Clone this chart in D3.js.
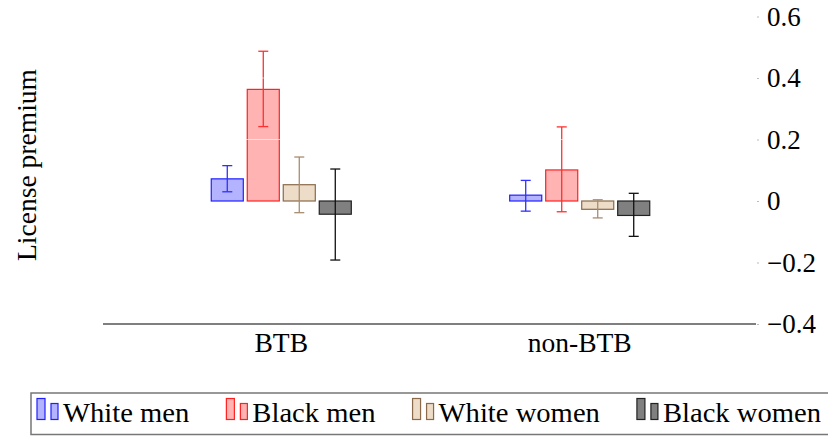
<!DOCTYPE html>
<html>
<head>
<meta charset="utf-8">
<script src="https://cdn.jsdelivr.net/npm/d3@7"></script>
<style>
  body { margin: 0; background: #fff; }
  text { font-family: "Liberation Serif", "DejaVu Serif", serif; fill: #000; }
</style>
</head>
<body>
<script>
let width = 828;
let height = 436;

// data
const groups = ["BTB", "non-BTB"];
const series = ["White men", "Black men", "White women", "Black women"];
const btbMean = [0.072, 0.363, 0.053, -0.043];
const btbLow = [0.030, 0.242, -0.038, -0.192];
const btbHigh = [0.115, 0.487, 0.143, 0.104];
const nonBtbMean = [0.019, 0.101, -0.027, -0.047];
const nonBtbLow = [-0.033, -0.035, -0.055, -0.115];
const nonBtbHigh = [0.067, 0.241, 0.004, 0.025];
const yTicks = [-0.4, -0.2, 0, 0.2, 0.4, 0.6];

const fills = ["#b3b3ff", "#ffb3b3", "#ecdcc8", "#808080"];
const strokes = ["#2020ff", "#ff2020", "#8a6a4a", "#222222"];
const errColors = ["#3030ff", "#ff3030", "#a88c70", "#111111"];

let svg = d3.select("body").append("svg")
  .attr("width", width)
  .attr("height", height);

let x = d3.scalePoint().domain(groups).range([104, 757]).padding(0.594);
let xs = d3.scaleBand().domain(series).range([-72, 72]).paddingInner(0.11).paddingOuter(0.055);
let y = d3.scaleLinear().domain([-0.4, 0.6]).range([324, 16.5]);

// widen the serif a little to mimic the Palatino widths of the original
function stretch(sel, k) {
  sel.each(function () {
    let w = this.getComputedTextLength();
    d3.select(this).attr("textLength", w * k).attr("lengthAdjust", "spacingAndGlyphs");
  });
}

// rows: one per bar
let rows = [];
groups.forEach((g, gi) => {
  let m = gi === 0 ? btbMean : nonBtbMean;
  let lo = gi === 0 ? btbLow : nonBtbLow;
  let hi = gi === 0 ? btbHigh : nonBtbHigh;
  series.forEach((s, si) => {
    rows.push({ group: g, series: s, i: si, v: m[si], lo: lo[si], hi: hi[si] });
  });
});

let bars = svg.append("g");
bars.selectAll("rect")
  .data(rows)
  .enter()
  .append("rect")
  .attr("x", d => x(d.group) + xs(d.series))
  .attr("y", d => y(Math.max(0, d.v)))
  .attr("width", xs.bandwidth())
  .attr("height", d => Math.abs(y(d.v) - y(0)))
  .attr("fill", d => fills[d.i])
  .attr("stroke", d => strokes[d.i])
  .attr("stroke-width", 1.2);

// error bars
let err = svg.append("g");
rows.forEach(d => {
  let cx = x(d.group) + xs(d.series) + xs.bandwidth() / 2;
  let g = err.append("g").attr("stroke", errColors[d.i]).attr("stroke-width", 1.3);
  g.append("line").attr("x1", cx).attr("x2", cx).attr("y1", y(d.lo)).attr("y2", y(d.hi));
  g.append("line").attr("x1", cx - 5).attr("x2", cx + 5).attr("y1", y(d.lo)).attr("y2", y(d.lo));
  g.append("line").attr("x1", cx - 5).attr("x2", cx + 5).attr("y1", y(d.hi)).attr("y2", y(d.hi));
});

// faint white grid lines over the marks
svg.append("g")
  .selectAll("line")
  .data([0.2, 0.4])
  .enter()
  .append("line")
  .attr("x1", 104).attr("x2", 757)
  .attr("y1", d => y(d)).attr("y2", d => y(d))
  .attr("stroke", "#fff")
  .attr("stroke-opacity", 0.6)
  .attr("stroke-width", 1);

// bottom axis line
svg.append("line")
  .attr("x1", 103).attr("x2", 756)
  .attr("y1", y(-0.4)).attr("y2", y(-0.4))
  .attr("stroke", "#555")
  .attr("stroke-width", 1.5);

// y axis on the right
let yAxis = svg.append("g")
  .attr("transform", "translate(757,0)")
  .call(d3.axisRight(y).tickValues(yTicks).tickSize(2).tickPadding(8)
    .tickFormat(d => d === 0 ? "0" : d3.format(".1f")(d)));
yAxis.attr("font-family", null).attr("font-size", null);
yAxis.select(".domain").remove();
yAxis.selectAll(".tick line").attr("stroke", "#bbb");
yAxis.selectAll(".tick text")
  .attr("font-size", 27)
  .attr("fill", "#000");

// group labels
svg.append("g")
  .selectAll("text")
  .data(groups)
  .enter()
  .append("text")
  .attr("x", d => x(d))
  .attr("y", 352)
  .attr("text-anchor", "middle")
  .attr("font-size", 27)
  .text(d => d)
  .call(stretch, 1.02);

// y label
svg.append("text")
  .attr("transform", "translate(36,165) rotate(-90)")
  .attr("text-anchor", "middle")
  .attr("font-size", 27)
  .text("License premium")
  .call(stretch, 1.02);

// legend
let legend = svg.append("g");
legend.append("rect")
  .attr("x", 31).attr("y", 393)
  .attr("width", 810).attr("height", 41.5)
  .attr("fill", "none")
  .attr("stroke", "#777")
  .attr("stroke-width", 1.5);

let lx = 37;
series.forEach((s, i) => {
  let item = legend.append("g");
  item.append("rect")
    .attr("x", lx).attr("y", 398.5).attr("width", 8).attr("height", 21)
    .attr("fill", fills[i]).attr("stroke", strokes[i]).attr("stroke-width", 1.2);
  item.append("rect")
    .attr("x", lx + 14).attr("y", 403.5).attr("width", 7).attr("height", 16)
    .attr("fill", fills[i]).attr("stroke", strokes[i]).attr("stroke-width", 1.2);
  let t = item.append("text")
    .attr("x", lx + 26)
    .attr("y", 422)
    .attr("font-size", 27)
    .text(s)
    .call(stretch, 1.06);
  lx = lx + 26 + +t.attr("textLength") + 37;
});
</script>
</body>
</html>
